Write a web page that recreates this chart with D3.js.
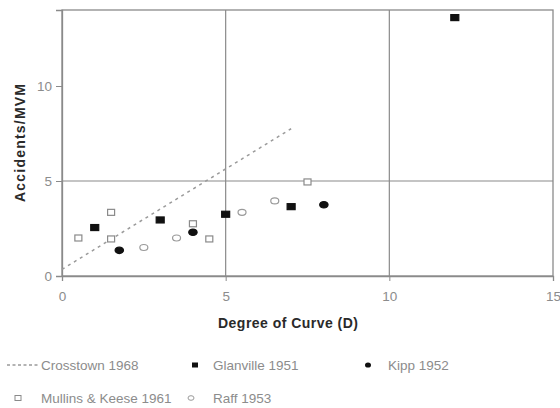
<!DOCTYPE html>
<html>
<head>
<meta charset="utf-8">
<script src="https://cdn.jsdelivr.net/npm/d3@7"></script>
<style>
body { margin: 0; background: #fff; }
svg text { font-family: "Liberation Sans", Arial, sans-serif; }
</style>
</head>
<body>
<div class="chart"></div>
<script>
var WIDTH = 560,
	HEIGHT = 408;

var margin = {left: 62, top: 10, right: 7, bottom: 132};

// data
var crosstown = [[0, 0.35], [7, 7.75]];
var glanville = [[1.0, 2.55], [3.0, 2.95], [5.0, 3.25], [7.0, 3.65], [12.0, 13.6]];
var kipp = [[1.75, 1.35], [4.0, 2.3], [8.0, 3.75]];
var mullins = [[0.5, 2.0], [1.5, 3.35], [1.5, 1.95], [4.0, 2.75], [4.5, 1.95], [7.5, 4.95]];
var raff = [[2.5, 1.5], [3.5, 2.0], [5.5, 3.35], [6.5, 3.95]];

var xTicks = [0, 5, 10, 15];
var yTicks = [0, 5, 10];

var svg = d3.select(".chart").append("svg")
	.attr("width", WIDTH)
	.attr("height", HEIGHT);

var xScale = d3.scaleLinear()
	.domain([0, 15])
	.range([margin.left, WIDTH - margin.right]);

var yScale = d3.scaleLinear()
	.domain([0, 14])
	.range([HEIGHT - margin.bottom, margin.top]);

var plotW = WIDTH - margin.right - margin.left,
	plotH = HEIGHT - margin.bottom - margin.top;

// frame
svg.append("rect")
	.attr("x", margin.left)
	.attr("y", margin.top)
	.attr("width", plotW)
	.attr("height", plotH)
	.attr("fill", "none")
	.attr("stroke", "#8a8a8a")
	.attr("stroke-width", 1.3);

// grid lines (vertical at 5,10 ; horizontal only at 5)
svg.selectAll(".vgrid")
	.data([5, 10])
	.enter().append("line")
	.attr("x1", function(d) { return xScale(d); })
	.attr("x2", function(d) { return xScale(d); })
	.attr("y1", margin.top)
	.attr("y2", HEIGHT - margin.bottom)
	.attr("stroke", "#8a8a8a")
	.attr("stroke-width", 1.2);

svg.selectAll(".hgrid")
	.data([5])
	.enter().append("line")
	.attr("x1", margin.left)
	.attr("x2", WIDTH - margin.right)
	.attr("y1", function(d) { return yScale(d); })
	.attr("y2", function(d) { return yScale(d); })
	.attr("stroke", "#8a8a8a")
	.attr("stroke-width", 1.2);

var xAxis = d3.axisBottom(xScale)
	.tickValues(xTicks)
	.tickSize(5)
	.tickPadding(10);

var yAxis = d3.axisLeft(yScale)
	.tickValues(yTicks)
	.tickSize(6)
	.tickPadding(4);

var xg = svg.append("g")
	.attr("transform", "translate(0," + (HEIGHT - margin.bottom) + ")")
	.call(xAxis);

var yg = svg.append("g")
	.attr("transform", "translate(" + margin.left + ",0)")
	.call(yAxis);

[xg, yg].forEach(function(g) {
	g.select(".domain").attr("stroke", "#8a8a8a").attr("stroke-width", 1.3);
	g.selectAll(".tick line").attr("stroke", "#8a8a8a");
	g.selectAll(".tick text")
		.attr("fill", "#8c8c8c")
		.style("font-size", "13.5px");
});

// axis titles
svg.append("text")
	.attr("x", 288)
	.attr("y", 328)
	.attr("text-anchor", "middle")
	.attr("textLength", 140)
	.attr("fill", "#2a2a2a")
	.style("font-size", "14px")
	.style("font-weight", "bold")
	.text("Degree of Curve (D)");

svg.append("text")
	.attr("transform", "translate(25,143) rotate(-90)")
	.attr("text-anchor", "middle")
	.attr("textLength", 118)
	.attr("fill", "#2a2a2a")
	.style("font-size", "14px")
	.style("font-weight", "bold")
	.text("Accidents/MVM");

// crosstown dashed line
var line = d3.line()
	.x(function(d) { return xScale(d[0]); })
	.y(function(d) { return yScale(d[1]); });

svg.append("path")
	.attr("d", line(crosstown))
	.attr("fill", "none")
	.attr("stroke", "#9a9a9a")
	.attr("stroke-width", 1.5)
	.attr("stroke-dasharray", "3,4");

// markers
var drawRects = function(data, w, h, fill, stroke) {
	svg.append("g").selectAll("rect")
		.data(data)
		.enter().append("rect")
		.attr("x", function(d) { return xScale(d[0]) - w / 2; })
		.attr("y", function(d) { return yScale(d[1]) - h / 2; })
		.attr("width", w)
		.attr("height", h)
		.attr("fill", fill)
		.attr("stroke", stroke)
		.attr("stroke-width", 1.2);
};

var drawEllipses = function(data, rx, ry, fill, stroke) {
	svg.append("g").selectAll("ellipse")
		.data(data)
		.enter().append("ellipse")
		.attr("cx", function(d) { return xScale(d[0]); })
		.attr("cy", function(d) { return yScale(d[1]); })
		.attr("rx", rx)
		.attr("ry", ry)
		.attr("fill", fill)
		.attr("stroke", stroke)
		.attr("stroke-width", 1.2);
};

drawRects(mullins, 7, 6, "#fff", "#8a8a8a");
drawEllipses(raff, 4, 3, "#fff", "#9a9a9a");
drawRects(glanville, 8, 6, "#111", "#111");
drawEllipses(kipp, 4.2, 3.2, "#111", "#111");

// legend
var legend = svg.append("g");
var legText = function(x, y, s) {
	legend.append("text")
		.attr("x", x)
		.attr("y", y)
		.attr("fill", "#8c8c8c")
		.style("font-size", "13.5px")
		.text(s);
};

legend.append("line")
	.attr("x1", 7).attr("x2", 38)
	.attr("y1", 365).attr("y2", 365)
	.attr("stroke", "#9a9a9a")
	.attr("stroke-width", 1.3)
	.attr("stroke-dasharray", "3,2.5");
legText(41, 370, "Crosstown 1968");

legend.append("rect")
	.attr("x", 192).attr("y", 362.5).attr("width", 6).attr("height", 5)
	.attr("fill", "#111");
legText(213, 370, "Glanville 1951");

legend.append("ellipse")
	.attr("cx", 368).attr("cy", 365).attr("rx", 3).attr("ry", 2.6)
	.attr("fill", "#111");
legText(388, 370, "Kipp 1952");

legend.append("rect")
	.attr("x", 15).attr("y", 395.5).attr("width", 6).attr("height", 5)
	.attr("fill", "#fff").attr("stroke", "#8a8a8a");
legText(41, 403, "Mullins & Keese 1961");

legend.append("ellipse")
	.attr("cx", 191).attr("cy", 398).attr("rx", 3).attr("ry", 2.3)
	.attr("fill", "#fff").attr("stroke", "#9a9a9a");
legText(213, 403, "Raff 1953");
</script>
</body>
</html>
